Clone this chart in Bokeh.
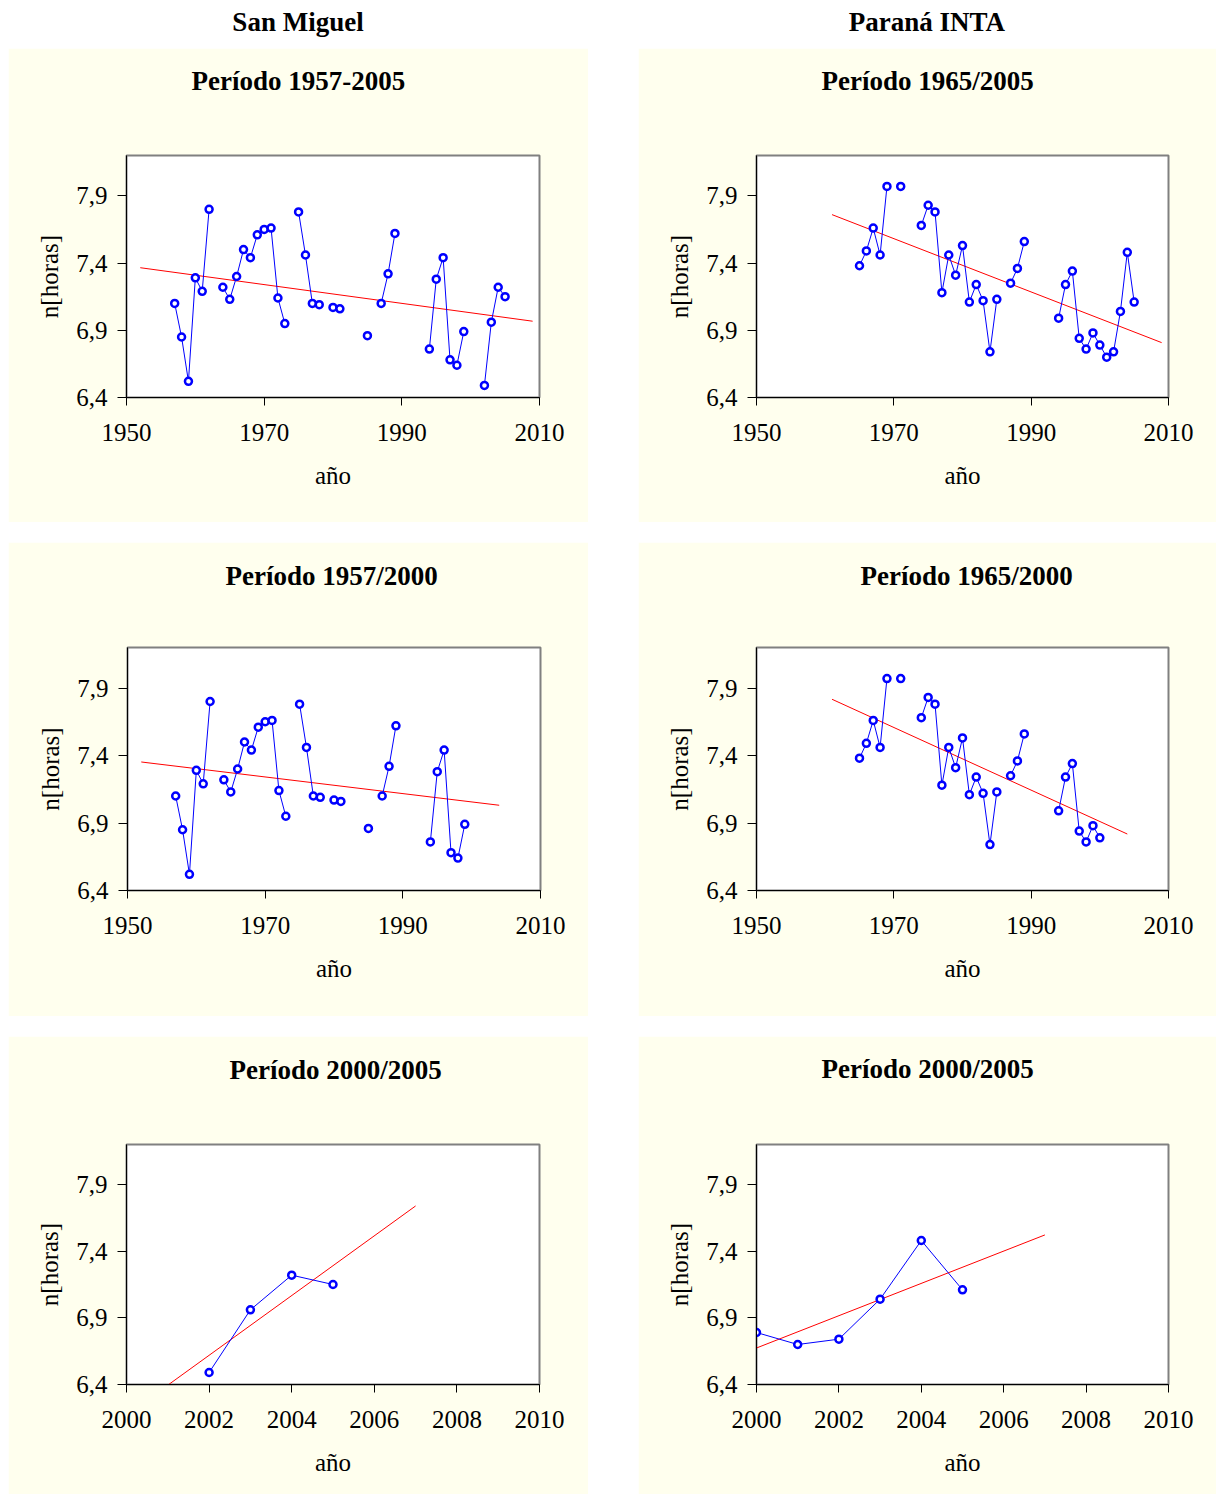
import numpy as np
from bokeh.plotting import figure
from bokeh.models import Range1d, FixedTicker, CustomJSTickFormatter, Div, Title
from bokeh.layouts import column, row
from bokeh.embed import file_html
from bokeh.resources import INLINE

# ---------------- data ----------------
sm_years = list(range(1957, 2006))
sm_hours = [7.10, 6.85, 6.52, 7.29, 7.19, 7.80, None, 7.22, 7.13, 7.30,
            7.50, 7.44, 7.61, 7.65, 7.66, 7.14, 6.95, None, 7.78, 7.46,
            7.10, 7.09, None, 7.07, 7.06, None, None, None, 6.86, None,
            7.10, 7.32, 7.62, None, None, None, None, 6.76, 7.28, 7.44,
            6.68, 6.64, 6.89, None, None, 6.49, 6.96, 7.22, 7.15]

pa_years = list(range(1965, 2006))
pa_hours = [7.38, 7.49, 7.66, 7.46, 7.97, None, 7.97, None, None, 7.68,
            7.83, 7.78, 7.18, 7.46, 7.31, 7.53, 7.11, 7.24, 7.12, 6.74,
            7.13, None, 7.25, 7.36, 7.56, None, None, None, None, 6.99,
            7.24, 7.34, 6.84, 6.76, 6.88, 6.79, 6.70, 6.74, 7.04, 7.48,
            7.11]

station_names = ["San Miguel", "Paraná INTA"]
panel_titles = ["Período 1957-2005", "Período 1965/2005",
                "Período 1957/2000", "Período 1965/2000",
                "Período 2000/2005", "Período 2000/2005"]
period_limits = [(1957, 2005), (1965, 2005), (1957, 2000), (1965, 2000),
                 (2000, 2005), (2000, 2005)]
trend_spans = [(1952, 2009), (1961, 2009), (1952, 2004), (1961, 2004),
               (2000, 2007), (2000, 2007)]
long_ticks = [1950, 1970, 1990, 2010]
short_ticks = [2000, 2002, 2004, 2006, 2008, 2010]
y_ticks = [6.4, 6.9, 7.4, 7.9]
y_label = "n[horas]"
x_label = "año"

# ---------------- style ----------------
BG = "#FFFFEE"
SERIF = "Liberation Serif"
BLUE = "#0000FF"
RED = "#FF0000"


def make_panel(yrs, vals, lims, span, title, title_offset, title_gap, x_lo, x_hi,
               ticks, width, height, b_top, b_bottom, b_left, b_right):
    yrs = np.array(yrs, dtype=float)
    v = np.array([np.nan if a is None else a for a in vals], dtype=float)
    m = (yrs >= lims[0]) & (yrs <= lims[1])
    x = yrs[m]
    y = v[m]
    ok = ~np.isnan(y)
    coef = np.polyfit(x[ok], y[ok], 1)
    tx = np.array(span, dtype=float)
    ty = np.polyval(coef, tx)

    p = figure(width=width, height=height,
               x_range=Range1d(x_lo, x_hi), y_range=Range1d(6.4, 8.2),
               output_backend="svg", toolbar_location=None,
               min_border_top=b_top, min_border_bottom=b_bottom,
               min_border_left=b_left, min_border_right=b_right,
               background_fill_color="white", border_fill_color=BG,
               outline_line_color="#808080", outline_line_width=2,
               title_location=None)

    # spacer between the frame and the title, then the title itself
    p.add_layout(Title(text=" ", text_font_size="10px", standoff=title_gap), "above")
    p.add_layout(Title(text=title, align="left", offset=title_offset, standoff=0,
                       text_font=SERIF, text_font_size="27px",
                       text_font_style="bold", text_color="black"), "above")

    p.grid.visible = False

    p.line(tx, ty, line_color=RED, line_width=1)
    p.line(x, y, line_color=BLUE, line_width=1)
    p.scatter(x[ok], y[ok], marker="circle", size=7, line_color=BLUE,
              fill_color="white", line_width=2.5)

    for ax in (p.xaxis[0], p.yaxis[0]):
        ax.axis_line_color = "black"
        ax.axis_line_width = 1
        ax.major_tick_line_color = "black"
        ax.major_tick_in = 0
        ax.minor_tick_in = 0
        ax.minor_tick_out = 0
        ax.major_label_text_font = SERIF
        ax.major_label_text_font_size = "25px"
        ax.major_label_text_color = "black"
        ax.axis_label_text_font = SERIF
        ax.axis_label_text_font_size = "25px"
        ax.axis_label_text_font_style = "normal"
        ax.axis_label_text_color = "black"

    p.xaxis.ticker = FixedTicker(ticks=ticks, minor_ticks=[])
    p.xaxis.major_tick_out = 8
    p.xaxis.major_label_standoff = 18
    p.xaxis.axis_label = x_label
    p.xaxis.axis_label_standoff = 18

    p.yaxis.ticker = FixedTicker(ticks=y_ticks, minor_ticks=[])
    p.yaxis.formatter = CustomJSTickFormatter(
        code="return tick.toFixed(1).replace('.', ',');")
    p.yaxis.major_tick_out = 9
    p.yaxis.major_label_standoff = 10
    p.yaxis.axis_label = y_label
    p.yaxis.axis_label_standoff = 10
    return p


LW, RW = 580, 578
panels = []
cfg = [
    # yrs, vals, title_offset, title_gap, x_lo, x_hi, ticks, width, height, top, bottom, left, right
    (sm_years, sm_hours, 65, 47, 1950, 2010, long_ticks, LW, 474, 107, 125, 118, 49),
    (pa_years, pa_hours, 65, 47, 1950, 2010, long_ticks, RW, 474, 107, 125, 118, 48),
    (sm_years, sm_hours, 98, 44, 1950, 2010, long_ticks, LW, 474, 105, 126, 119, 48),
    (pa_years, pa_hours, 104, 44, 1950, 2010, long_ticks, RW, 474, 105, 126, 118, 48),
    (sm_years, sm_hours, 103, 47, 2000, 2010, short_ticks, LW, 458, 105, 110, 118, 49),
    (pa_years, pa_hours, 65, 48, 2000, 2010, short_ticks, RW, 458, 108, 107, 118, 48),
]
for i, c in enumerate(cfg):
    yrs, vals, toff, tgap, xlo, xhi, tk, w, h, bt, bb, bl, br = c
    panels.append(make_panel(yrs, vals, period_limits[i], trend_spans[i],
                             panel_titles[i], toff, tgap, xlo, xhi, tk, w, h,
                             bt, bb, bl, br))


def heading(text, w):
    html = ('<div style="width:%dpx;text-align:center;font-family:\'Liberation Serif\';'
            'font-weight:bold;font-size:27px;line-height:28px;color:black;">%s</div>'
            % (w, text))
    return Div(text=html, width=w, height=40, margin=0)


heads = row(heading(station_names[0], LW), heading(station_names[1], RW), spacing=50)
r1 = row(panels[0], panels[1], spacing=50)
r2 = row(panels[2], panels[3], spacing=50)
r3 = row(panels[4], panels[5], spacing=50)
grid = column(r1, r2, r3, spacing=20)
layout = column(heads, grid, spacing=0, margin=(8, 0, 0, 8))

open("out.html", "w").write(file_html(layout, INLINE))
